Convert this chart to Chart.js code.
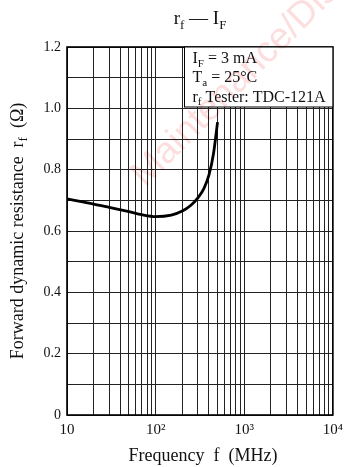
<!DOCTYPE html>
<html>
<head>
<meta charset="utf-8">
<script src="https://cdn.jsdelivr.net/npm/chart.js@4"></script>
<style>
  body { margin: 0; background: #fff; }
  #wrap { width: 349px; height: 467px; position: relative; }
</style>
</head>
<body>
<div id="wrap"><canvas id="Chart"></canvas></div>
<script>
// data
const freq = [10, 20, 30, 50, 70, 100, 150, 200, 250, 300, 350, 400, 450, 500];
const rf = [0.705, 0.688, 0.677, 0.663, 0.653, 0.647, 0.652, 0.665, 0.684, 0.708, 0.738, 0.783, 0.853, 0.955];

const xTicks = [10, 20, 30, 40, 50, 60, 70, 80, 90,
                100, 200, 300, 400, 500, 600, 700, 800, 900,
                1000, 2000, 3000, 4000, 5000, 6000, 7000, 8000, 9000, 10000];
const xLabels = {10: '10', 100: '10²', 1000: '10³', 10000: '10⁴'};
const notes = [['I', 'F', ' = 3 mA'], ['T', 'a', ' = 25°C'], ['r', 'f', ' Tester: TDC-121A']];

const serif = "'Liberation Serif', 'Times New Roman', serif";

// draws main text + subscript + rest, returns end x
function subText(ctx, x, y, main, sub, rest, size, draw) {
    ctx.font = size + 'px ' + serif;
    if (draw) ctx.fillText(main, x, y);
    x += ctx.measureText(main).width;
    ctx.font = Math.round(size * 0.7) + 'px ' + serif;
    if (draw) ctx.fillText(sub, x, y + size * 0.24);
    x += ctx.measureText(sub).width;
    ctx.font = size + 'px ' + serif;
    if (draw) ctx.fillText(rest, x, y);
    x += ctx.measureText(rest).width;
    return x;
}

const extras = {
    id: 'extras',
    afterDatasetsDraw(chart) {
        const ctx = chart.ctx;
        const a = chart.chartArea;
        ctx.save();
        // frame
        ctx.strokeStyle = '#000';
        ctx.lineWidth = 1.6;
        ctx.strokeRect(a.left, a.top, a.right - a.left, a.bottom - a.top);

        // condition box
        ctx.fillStyle = '#fff';
        ctx.fillRect(184, a.top, a.right - 184, 107 - a.top);
        ctx.lineWidth = 1;
        ctx.strokeRect(184.5, a.top, a.right - 184.5, 107 - a.top);
        ctx.fillStyle = '#111';
        ctx.textBaseline = 'alphabetic';
        ctx.textAlign = 'left';
        notes.forEach((n, i) => {
            subText(ctx, 192.5, 63 + i * 19.3, n[0], n[1], n[2], 16, true);
        });

        // title
        let w = subText(ctx, 0, 0, 'r', 'f', ' — ', 19, false);
        w = subText(ctx, w, 0, 'I', 'F', '', 19, false);
        let x = 200 - w / 2;
        x = subText(ctx, x, 24, 'r', 'f', ' — ', 19, true);
        subText(ctx, x, 24, 'I', 'F', '', 19, true);

        // x axis title
        ctx.font = '18px ' + serif;
        ctx.textAlign = 'center';
        ctx.fillText('Frequency  f  (MHz)', 203, 461);

        // y axis title
        ctx.translate(23, 231);
        ctx.rotate(-Math.PI / 2);
        ctx.textAlign = 'left';
        w = subText(ctx, 0, 0, 'Forward dynamic resistance  r', 'f', '  (Ω)', 18, false);
        subText(ctx, -w / 2, 0, 'Forward dynamic resistance  r', 'f', '  (Ω)', 18, true);
        ctx.restore();

        // faint watermark
        ctx.save();
        ctx.globalCompositeOperation = 'multiply';
        ctx.translate(145, 188);
        ctx.rotate(-Math.PI / 4);
        ctx.font = "37px 'Liberation Sans', sans-serif";
        ctx.fillStyle = 'rgba(240, 70, 70, 0.18)';
        ctx.fillText('Maintenance/Discontinued', 0, 0);
        ctx.restore();
    }
};

var ctx = document.getElementById('Chart').getContext('2d');
var myChart = new Chart(ctx, {
    type: 'line',
    data: {
        datasets: [{
            data: freq.map((f, i) => ({x: f, y: rf[i]})),
            borderColor: '#000',
            borderWidth: 2.8,
            pointRadius: 0,
            cubicInterpolationMode: 'monotone',
            fill: false
        }]
    },
    options: {
        responsive: true,
        maintainAspectRatio: false,
        animation: false,
        layout: {
            autoPadding: false,
            padding: {top: 47, right: 10, left: 0, bottom: 0}
        },
        plugins: {
            legend: {display: false},
            tooltip: {enabled: false}
        },
        scales: {
            x: {
                type: 'logarithmic',
                min: 10,
                max: 10000,
                afterBuildTicks: (s) => { s.ticks = xTicks.map(v => ({value: v})); },
                afterFit: (s) => { s.height = 52; },
                grid: {color: '#222', lineWidth: 1, drawTicks: false},
                border: {display: false},
                ticks: {
                    autoSkip: false,
                    maxRotation: 0,
                    padding: 6,
                    color: '#111',
                    font: {size: 15, family: serif},
                    callback: (v) => xLabels[v] || ''
                }
            },
            y: {
                min: 0,
                max: 1.2,
                afterFit: (s) => { s.width = 67; },
                grid: {color: '#222', lineWidth: 1, drawTicks: false},
                border: {display: false},
                ticks: {
                    stepSize: 0.1,
                    padding: 6,
                    color: '#111',
                    font: {size: 14, family: serif},
                    callback: function (v) {
                        const k = Math.round(v * 10);
                        if (k % 2 !== 0) return '';
                        return k === 0 ? '0' : (k / 10).toFixed(1);
                    }
                }
            }
        }
    },
    plugins: [extras]
});
</script>
</body>
</html>
